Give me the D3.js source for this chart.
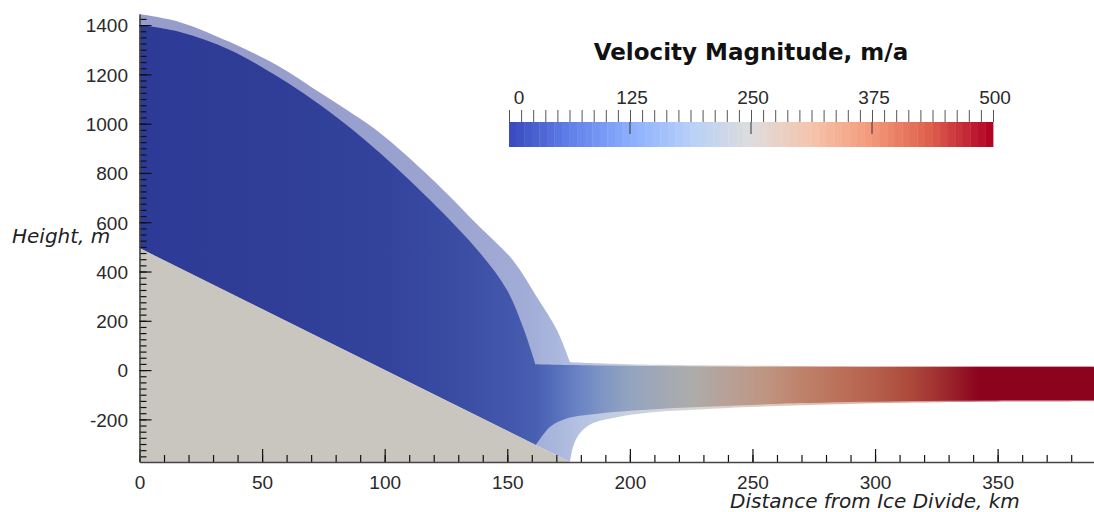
<!DOCTYPE html>
<meta charset="utf-8">
<html>
<style>
  body { margin: 0; background: #fff; }
  .tick text { font-family: "Liberation Sans", Arial, sans-serif; font-size: 19px; fill: #2a2a2a; }
  .axis-title { font-family: "DejaVu Sans", sans-serif; font-style: italic; font-size: 20px; fill: #222; }
  .bar-title { font-family: "DejaVu Sans", sans-serif; font-weight: bold; font-size: 23px; fill: #111; }
  .bar-label { font-family: "Liberation Sans", Arial, sans-serif; font-size: 19px; fill: #2a2a2a; text-anchor: middle; }
</style>
<body>
<svg width="1094" height="512"></svg>
<script src="https://d3js.org/d3.v7.min.js"></script>
<script>

// bed (km, m)
var bedKm = [0, 175.6];
var bedM = [495, -373];

// current grounded ice surface
var surfKm = [0, 16.5, 36.9, 57.3, 70.8, 84.6, 98.1, 118.5, 138.9, 149.9, 156.4, 161.3];
var surfM  = [1400, 1372, 1299, 1185, 1096, 994, 881, 690, 475, 325, 175, 30];

// current ice shelf top and base
var shelfTopKm = [161.3, 175, 200, 250, 300, 389.5];
var shelfTopM  = [24, 21, 18, 14, 13, 12];
var shelfBaseKm = [161.7, 167.4, 174.2, 187.8, 208.2, 228.5, 248.9, 269.4, 310.2, 350, 389.5];
var shelfBaseM  = [-304, -231, -196, -176, -160, -150, -142, -134, -126, -123, -122];

// second (translucent) geometry
var outerSurfKm = [0, 16.5, 36.9, 57.3, 70.8, 84.6, 98.1, 118.5, 138.9, 152.3, 162.1, 170.3, 175.6];
var outerSurfM  = [1445, 1412, 1331, 1230, 1144, 1055, 962, 783, 580, 446, 296, 162, 32];
var outerTopKm = [175.6, 200, 250, 300, 389.5];
var outerTopM  = [32, 24, 18, 16, 15];
var outerBaseKm = [175.6, 176.8, 179.6, 185, 194.7, 208.2, 228.5, 248.9, 310.2, 389.5];
var outerBaseM  = [-373, -312, -256, -215, -191, -172, -160, -150, -133, -126];

// velocity magnitude along the flow line (m/a)
var velKm = [0, 60, 100, 130, 150, 161, 170, 180, 190, 200, 212, 225, 240, 255, 270, 285, 300, 315, 330, 342, 390];
var velMa = [0, 4, 12, 25, 40, 52, 80, 120, 160, 195, 225, 250, 285, 320, 355, 385, 410, 440, 470, 500, 500];

var xTicks = [0, 50, 100, 150, 200, 250, 300, 350];
var yTicks = [-200, 0, 200, 400, 600, 800, 1000, 1200, 1400];
var barTicks = [0, 125, 250, 375, 500];

// cool to warm
var cmap = d3.scaleLinear()
    .domain([0, 0.125, 0.25, 0.375, 0.5, 0.625, 0.75, 0.875, 1])
    .range(["rgb(59,76,192)", "rgb(98,130,234)", "rgb(141,176,254)", "rgb(184,208,249)",
            "rgb(221,221,221)", "rgb(245,196,173)", "rgb(244,154,123)", "rgb(222,96,77)", "rgb(180,4,38)"])
    .interpolate(d3.interpolateRgb)
    .clamp(true);

function shade(c) {
    var r = d3.rgb(c);
    return d3.rgb(r.r * 0.78, r.g * 0.78, r.b * 0.78).toString();
}

var svg = d3.select("svg");

var x = d3.scaleLinear().domain([0, 389.3]).range([139.5, 1094]);
var y = d3.scaleLinear().domain([-373, 1445]).range([462, 14]);

var defs = svg.append("defs");
defs.append("clipPath").attr("id", "plot")
  .append("rect")
    .attr("x", x(0)).attr("y", y(1445) - 2)
    .attr("width", x(389.3) - x(0)).attr("height", y(-373) - y(1445) + 2);

var grad = defs.append("linearGradient")
    .attr("id", "vel")
    .attr("gradientUnits", "userSpaceOnUse")
    .attr("x1", x(0)).attr("x2", x(390)).attr("y1", 0).attr("y2", 0);
grad.selectAll("stop")
    .data(velKm)
    .enter().append("stop")
    .attr("offset", function(d) { return Math.min(1, d / 390); })
    .attr("stop-color", function(d, i) { return shade(cmap(velMa[i] / 500)); });

function pts(kms, ms) {
    return kms.map(function(k, i) { return [x(k), y(ms[i])]; });
}
var line = d3.line().curve(d3.curveCatmullRom.alpha(0.5));
function join(parts) {
    return parts.map(function(p, i) {
        var s = line(p);
        return i ? s.replace(/^M/, "L") : s;
    }).join("") + "Z";
}

var plot = svg.append("g").attr("clip-path", "url(#plot)");

// translucent geometry
plot.append("path")
    .attr("d", join([
        pts(outerSurfKm, outerSurfM),
        pts(outerTopKm, outerTopM),
        pts(outerBaseKm, outerBaseM).reverse(),
        [[x(bedKm[0]), y(bedM[0])]]
    ]))
    .attr("fill", "url(#vel)")
    .attr("fill-opacity", 0.5);

// current geometry
plot.append("path")
    .attr("d", join([
        pts(surfKm, surfM),
        pts(shelfTopKm, shelfTopM),
        pts(shelfBaseKm, shelfBaseM).reverse(),
        [[x(bedKm[0]), y(bedM[0])]]
    ]))
    .attr("fill", "url(#vel)");

// bedrock
plot.append("path")
    .attr("d", d3.line()(pts(bedKm, bedM).concat([[x(0), y(-373)]])) + "Z")
    .attr("fill", "#c8c6be");

// axes
var fmt = function(d) { return String(d); };

var xMinor = svg.append("g")
    .attr("transform", "translate(0," + y(-373) + ")")
    .call(d3.axisBottom(x).tickValues(d3.range(0, 390, 10)).tickSizeInner(-7).tickSizeOuter(0).tickFormat(""));
xMinor.select(".domain").remove();

var xAxis = svg.append("g")
    .attr("transform", "translate(0," + y(-373) + ")")
    .call(d3.axisBottom(x).tickValues(xTicks).tickSizeInner(-13).tickSizeOuter(0).tickPadding(13.5).tickFormat(fmt));
xAxis.select(".domain").attr("stroke", "#444").attr("stroke-width", 1.6);

var yMinor = svg.append("g")
    .attr("transform", "translate(" + x(0) + ",0)")
    .call(d3.axisLeft(y).tickValues(d3.range(-350, 1440, 25)).tickSizeInner(-7).tickSizeOuter(0).tickFormat(""));
yMinor.select(".domain").remove();

var yAxis = svg.append("g")
    .attr("transform", "translate(" + x(0) + ",0)")
    .call(d3.axisLeft(y).tickValues(yTicks).tickSizeInner(-12).tickSizeOuter(0).tickPadding(11.5).tickFormat(fmt));
yAxis.select(".domain").attr("stroke", "#444").attr("stroke-width", 1.6);

svg.selectAll(".tick line").attr("stroke", "#111").attr("stroke-width", 1.2);
svg.selectAll(".tick text").attr("font-family", null).attr("font-size", null);
yAxis.selectAll(".tick text").attr("dy", "0.36em");

svg.append("text").attr("class", "axis-title")
    .attr("x", 12).attr("y", 243).text("Height, m");
svg.append("text").attr("class", "axis-title")
    .attr("x", 730).attr("y", 508).text("Distance from Ice Divide, km");

// colour bar
var cb = d3.scaleLinear().domain([0, 500]).range([509, 993]);
var nBands = 64;
svg.append("g").selectAll("rect")
    .data(d3.range(nBands))
    .enter().append("rect")
    .attr("x", function(i) { return cb(i * 500 / nBands); })
    .attr("y", 122)
    .attr("width", cb(500 / nBands) - cb(0) + 0.4)
    .attr("height", 25)
    .attr("fill", function(i) { return cmap(i / (nBands - 1)); });

var cbAxis = svg.append("g")
    .attr("transform", "translate(0,122)")
    .call(d3.axisTop(cb).tickValues(d3.range(0, 500.1, 12.5)).tickSizeInner(12).tickSizeOuter(0).tickFormat(""));
cbAxis.select(".domain").remove();
cbAxis.selectAll("line").attr("stroke", "#555").attr("stroke-width", 1);

svg.append("g").selectAll("line")
    .data(barTicks.slice(1, -1))
    .enter().append("line")
    .attr("x1", function(d) { return cb(d); }).attr("x2", function(d) { return cb(d); })
    .attr("y1", 122).attr("y2", 134)
    .attr("stroke", "#333").attr("stroke-width", 1);

svg.append("g").selectAll("text")
    .data(barTicks)
    .enter().append("text")
    .attr("class", "bar-label")
    .attr("x", function(d) { return Math.max(cb(d) + 2, cb(0) + 10); })
    .attr("y", 104)
    .text(function(d) { return d; });

svg.append("text").attr("class", "bar-title")
    .attr("x", cb(250)).attr("y", 60)
    .attr("text-anchor", "middle")
    .text("Velocity Magnitude, m/a");

</script>
</body>
</html>
